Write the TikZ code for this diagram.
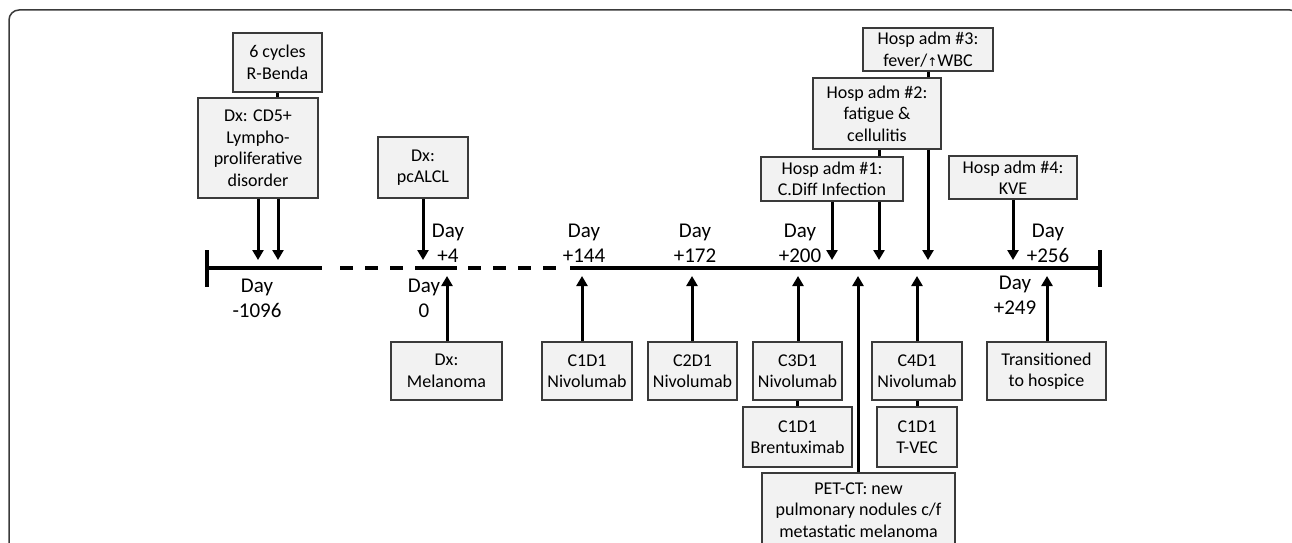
\documentclass[tikz,border=0pt]{standalone}
\usepackage{fontspec}
\setmainfont{Carlito}
\newfontfamily\symfont{DejaVu Sans}
\usetikzlibrary{arrows.meta}

\definecolor{boxfill}{HTML}{F2F2F2}
\definecolor{boxline}{HTML}{3A3A3A}

\tikzset{
	evbox/.style={draw=boxline, line width=1.4pt, fill=boxfill, align=center, inner sep=0pt,
		font=\fontsize{18}{21.5}\selectfont},
	daylabel/.style={align=center, inner sep=0pt, font=\fontsize{21}{25}\selectfont},
	event/.style={line width=3pt, -{Triangle[length=10pt,width=11pt]}},
	link/.style={line width=3pt},
	axis/.style={line width=4pt},
}

\begin{document}
\begin{tikzpicture}[x=1pt, y=-1pt]
	\useasboundingbox (0,0) rectangle (1292,543);
	% outer frame, cut off at the bottom and the right
	\draw[boxline, line width=1.5pt, rounded corners=10pt] (9,560) -- (9,10) -- (1300,10) -- (1300,560);

	% time line
	\draw[axis] (207,268) -- (322,268);
	\draw[axis, dash pattern=on 13pt off 12pt] (340,268) -- (407,268);
	\draw[axis] (415,268) -- (457,268);
	\draw[axis, dash pattern=on 13pt off 12pt] (468,268) -- (560,268);
	\draw[axis] (570,268) -- (1100,268);
	\draw[axis] (207,250) -- (207,287);
	\draw[axis] (1100,250) -- (1100,287);

	% arrow ends on the time line
	\coordinate (dA) at (258,260);
	\coordinate (dB) at (278,260);
	\coordinate (dC) at (423,260);
	\coordinate (dD) at (832,260);
	\coordinate (dE) at (879,260);
	\coordinate (dF) at (928,260);
	\coordinate (dG) at (1013,260);
	\coordinate (uA) at (447,276);
	\coordinate (uB) at (582,276);
	\coordinate (uC) at (692,276);
	\coordinate (uD) at (798,276);
	\coordinate (uE) at (858,276);
	\coordinate (uF) at (917,276);
	\coordinate (uG) at (1047,276);

	% day labels
	\node[daylabel] (dm1096) at (257,298.5) {Day\\-1096};
	\node[daylabel] (d0) at (424,298.5) {Day\\0};
	\node[daylabel] (d4) at (448,243.5) {Day\\+4};
	\node[daylabel] (d144) at (584,243.5) {Day\\+144};
	\node[daylabel] (d172) at (695,243.5) {Day\\+172};
	\node[daylabel] (d200) at (800,243.5) {Day\\+200};
	\node[daylabel] (d249) at (1015,295.5) {Day\\+249};
	\node[daylabel] (d256) at (1048,243.5) {Day\\+256};

	% boxes above the line
	\node[evbox, minimum width=89pt, minimum height=59pt] (benda) at (277.5,62.5) {6 cycles\\R-Benda};
	\node[evbox, minimum width=120pt, minimum height=100pt] (cdfive) at (258,148) {Dx: CD5+\\Lympho-\\proliferative\\disorder};
	\node[evbox, minimum width=90pt, minimum height=61pt] (pcalcl) at (423,167.5) {Dx:\\pcALCL};
	\node[evbox, minimum width=142pt, minimum height=44pt] (hospone) at (832,179) {Hosp adm \#1:\\C.Diff Infection};
	\node[evbox, minimum width=128pt, minimum height=71pt] (hosptwo) at (877,113.5) {Hosp adm \#2:\\fatigue \&\\cellulitis};
	\node[evbox, minimum width=130pt, minimum height=43pt] (hospthree) at (928,49.5) {Hosp adm \#3:\\fever/{\symfont\fontsize{12}{12}\selectfont ↑}WBC};
	\node[evbox, minimum width=128pt, minimum height=43pt] (hospfour) at (1013,177.5) {Hosp adm \#4:\\KVE};

	% boxes below the line
	\node[evbox, minimum width=111pt, minimum height=58pt] (melanoma) at (446.5,371) {Dx:\\Melanoma};
	\node[evbox, minimum width=90pt, minimum height=58pt] (cionenivo) at (587,371) {C1D1\\Nivolumab};
	\node[evbox, minimum width=89pt, minimum height=58pt] (ctwonivo) at (692.5,371) {C2D1\\Nivolumab};
	\node[evbox, minimum width=89pt, minimum height=58pt] (cthreenivo) at (797.5,371) {C3D1\\Nivolumab};
	\node[evbox, minimum width=109pt, minimum height=60pt] (brentux) at (797.5,437) {C1D1\\Brentuximab};
	\node[evbox, minimum width=90pt, minimum height=58pt] (cfournivo) at (917,371) {C4D1\\Nivolumab};
	\node[evbox, minimum width=80pt, minimum height=60pt] (tvec) at (917,437) {C1D1\\T-VEC};
	\node[evbox, minimum width=119pt, minimum height=58pt] (hospice) at (1046.5,371) {Transitioned\\to hospice};
	\node[evbox, minimum width=193pt, minimum height=74pt] (petct) at (858.5,510) {PET-CT: new\\pulmonary nodules c/f\\metastatic melanoma};

	% links between stacked boxes
	\draw[link] (benda.south) -- (benda.south |- cdfive.north);
	\draw[link] (hospthree.south) -- (hospthree.south |- hosptwo.north);
	\draw[link] (hosptwo.south -| dE) -- (hospone.north -| dE);
	\draw[link] (cthreenivo) -- (brentux);
	\draw[link] (cfournivo) -- (tvec);

	% arrows down to the line
	\draw[event] (cdfive.south -| dA) -- (dA);
	\draw[event] (cdfive.south -| dB) -- (dB);
	\draw[event] (pcalcl.south -| dC) -- (dC);
	\draw[event] (hospone.south -| dD) -- (dD);
	\draw[event] (hospone.south -| dE) -- (dE);
	\draw[event] (hosptwo.south -| dF) -- (dF);
	\draw[event] (hospfour.south -| dG) -- (dG);

	% arrows up to the line
	\draw[event] (melanoma.north -| uA) -- (uA);
	\draw[event] (cionenivo.north -| uB) -- (uB);
	\draw[event] (ctwonivo.north -| uC) -- (uC);
	\draw[event] (cthreenivo.north -| uD) -- (uD);
	\draw[event] (petct.north -| uE) -- (uE);
	\draw[event] (cfournivo.north -| uF) -- (uF);
	\draw[event] (hospice.north -| uG) -- (uG);
\end{tikzpicture}
\end{document}
